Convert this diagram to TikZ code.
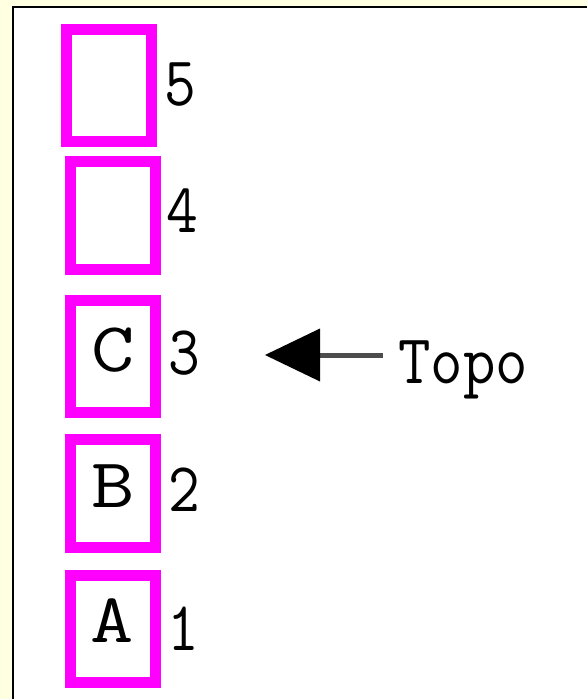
\documentclass[tikz,border=0pt]{standalone}
\usetikzlibrary{arrows.meta}
\definecolor{tipyellow}{RGB}{255,255,225}
\definecolor{stackpink}{RGB}{255,0,255}
\tikzset{
  slot/.style={draw=stackpink, line width=11pt, minimum width=85pt, inner sep=0pt, fill=white},
  glyph/.style={anchor=base, inner sep=0pt, font=\ttfamily\fontsize{70}{70}\selectfont},
  pointer/.style={draw=black!70, line width=5pt, -{Triangle[length=55pt, width=53pt, color=black, fill=black, line width=0pt]}}
}
\newcommand{\narrow}[1]{\scalebox{0.88}[1]{#1}}
\newcommand{\wideglyph}[1]{\scalebox{1.2}[1]{#1}}
\begin{document}
\begin{tikzpicture}[x=1pt, y=-1pt]
  % canvas and frame
  \fill[tipyellow] (0,0) rectangle (587,699);
  \useasboundingbox (0,0) rectangle (587,699);
  \fill[white] (13,7) rectangle (587,699);
  \draw[line width=2pt] (13,699) -- (13,7) -- (587,7);

  % stack slots, bottom to top
  \node[slot, minimum height=107pt] (s1) at (112.5,628.5) {};
  \node[slot, minimum height=108pt] (s2) at (112.5,493) {};
  \node[slot, minimum height=112pt] (s3) at (112.5,356) {};
  \node[slot, minimum height=108pt] (s4) at (112.5,215) {};
  \node[slot, minimum height=112pt] (s5) at (108.5,85) {};

  % contents
  \node[glyph] (ca) at (112.5,642) {\wideglyph{A}};
  \node[glyph] (cb) at (113,507) {\wideglyph{B}};
  \node[glyph] (cc) at (113,371) {\wideglyph{C}};

  % slot indices
  \node[glyph] (n1) at (183.5,650) {\narrow{1}};
  \node[glyph] (n2) at (184,511) {\narrow{2}};
  \node[glyph] (n3) at (184.5,374) {\narrow{3}};
  \node[glyph] (n4) at (182.5,232) {\narrow{4}};
  \node[glyph] (n5) at (180,105) {\narrow{5}};

  % top-of-stack pointer
  \node[glyph] (topo) at (463,383) {\scalebox{0.9}[1]{Topo}};
  \coordinate (tip) at (265,355);
  \coordinate (tail) at (383,355);
  \draw[pointer] (tail) -- (tip);
\end{tikzpicture}
\end{document}
